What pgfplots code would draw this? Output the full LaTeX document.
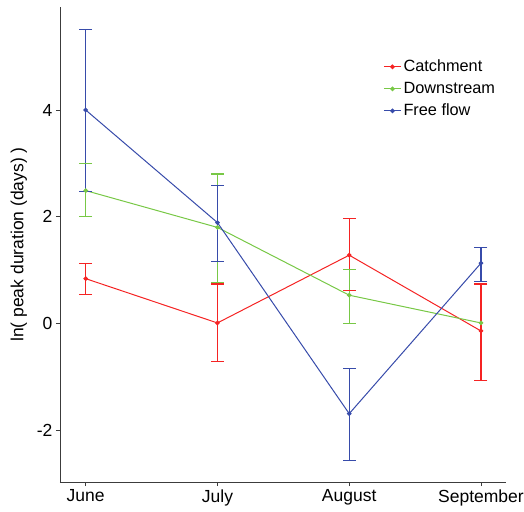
\documentclass[border=0pt]{standalone}
\usepackage{pgfplots}
\pgfplotsset{compat=1.18}
\usepackage{fontspec}
\setmainfont{Liberation Sans}
\definecolor{cred}{RGB}{245,35,35}
\definecolor{cgreen}{RGB}{120,200,70}
\definecolor{cblue}{RGB}{55,75,170}
\definecolor{spine}{RGB}{60,60,60}
\pgfplotsset{
  ebar/.style={color=#1, line width=1.1pt, mark=none, forget plot, unbounded coords=jump},
  ecap/.style={color=#1, line width=1.1pt, only marks, mark=-, mark size=6.5pt, mark options={draw=#1, line width=1.1pt}, forget plot},
}
\begin{document}
\begin{tikzpicture}
\begin{axis}[
  scale only axis,
  width=446pt, height=475pt,
  xmin=-0.195, xmax=3.19,
  ymin=-2.97, ymax=5.93,
  axis x line*=bottom, axis y line*=left,
  axis line style={draw=spine, line width=0.9pt, -},
  xtick={0,1,2,3},
  xticklabels={June,July,August,September},
  ytick={-2,0,2,4},
  tick style={draw=spine, line width=0.9pt},
  tick align=outside,
  major tick length=4pt,
  tick label style={font=\fontsize{17.5}{20}\selectfont},
  /pgf/number format/assume math mode=true,
  ylabel={ln( peak duration (days) )},
  ylabel style={font=\fontsize{17.5}{20}\selectfont, yshift=3pt},
  legend style={at={(0.718,0.897)}, anchor=north west, draw=none, fill=none,
    font=\fontsize{16.3}{19}\selectfont, row sep=5pt},
  legend cell align=left,
]
% Catchment
\addplot[ebar=cred] coordinates {(0,0.54)(0,1.13)(0,nan)(1,-0.72)(1,0.74)(1,nan)(2,0.61)(2,1.97)(2,nan)(3,-1.06)(3,0.74)};
\addplot[ecap=cred] coordinates {(0,0.54)(0,1.13)(1,-0.72)(1,0.74)(2,0.61)(2,1.97)(3,-1.06)(3,0.74)};
% Downstream
\addplot[ebar=cgreen] coordinates {(0,2.0)(0,3.0)(0,nan)(1,0.77)(1,2.80)(1,nan)(2,0.0)(2,1.01)};
\addplot[ecap=cgreen] coordinates {(0,2.0)(0,3.0)(1,0.77)(1,2.80)(2,0.0)(2,1.01)};
% Free flow
\addplot[ebar=cblue] coordinates {(0,2.47)(0,5.51)(0,nan)(1,1.16)(1,2.59)(1,nan)(2,-2.56)(2,-0.84)(2,nan)(3,0.79)(3,1.43)};
\addplot[ecap=cblue] coordinates {(0,2.47)(0,5.51)(1,1.16)(1,2.59)(2,-2.56)(2,-0.84)(3,0.79)(3,1.43)};

\addplot[color=cred, line width=1pt, mark=*, mark size=1.8pt, mark options={fill=cred, draw=cred}]
coordinates {(0,0.84)(1,0.01)(2,1.28)(3,-0.14)};
\addlegendentry{Catchment}
\addplot[color=cgreen, line width=1pt, mark=*, mark size=1.8pt, mark options={fill=cgreen, draw=cgreen}]
coordinates {(0,2.49)(1,1.80)(2,0.53)(3,0.01)};
\addlegendentry{Downstream}
\addplot[color=cblue, line width=1pt, mark=*, mark size=1.8pt, mark options={fill=cblue, draw=cblue}]
coordinates {(0,4.00)(1,1.89)(2,-1.69)(3,1.13)};
\addlegendentry{Free flow}
\end{axis}
\pgfresetboundingbox
\path[use as bounding box] ([xshift=-60pt,yshift=-29pt]current axis.south west) rectangle ([xshift=18pt,yshift=7pt]current axis.north east);
\end{tikzpicture}
\end{document}
